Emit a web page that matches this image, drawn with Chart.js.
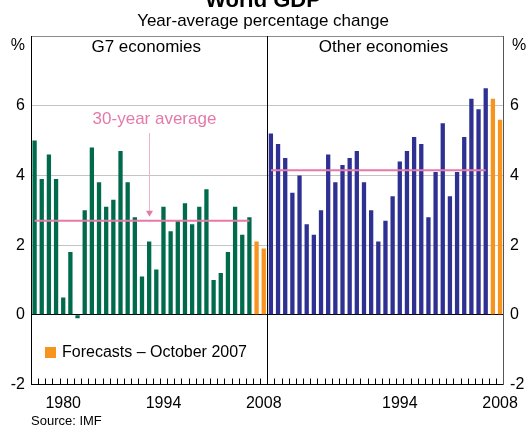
<!DOCTYPE html>
<html><head><meta charset="utf-8">
<script src="https://cdn.jsdelivr.net/npm/chart.js@4.4.1/dist/chart.umd.min.js"></script>
<style>html,body{margin:0;padding:0;background:#fff;}canvas{display:block;}</style>
</head><body>
<canvas id="c" width="527" height="426"></canvas>
<script>
// ---- data ----
const years = [1976,1977,1978,1979,1980,1981,1982,1983,1984,1985,1986,1987,1988,1989,1990,1991,1992,1993,1994,1995,1996,1997,1998,1999,2000,2001,2002,2003,2004,2005,2006,2007,2008];
const g7Growth = [5.0,3.9,4.6,3.9,0.5,1.8,-0.1,3.0,4.8,3.8,3.1,3.3,4.7,3.8,2.8,1.1,2.1,1.3,3.1,2.4,2.7,3.2,2.6,3.1,3.6,1.0,1.2,1.8,3.1,2.3,2.8,2.1,1.9];
const otherGrowth = [5.2,4.9,4.5,3.5,4.0,2.6,2.3,3.0,4.6,3.8,4.3,4.5,4.7,3.8,3.0,2.1,2.7,3.4,4.4,4.7,5.1,4.9,2.8,4.1,5.5,3.4,4.1,5.1,6.2,5.9,6.5,6.2,5.6];
const forecastYears = [2007, 2008];
const averageYears = [1976, 2006];
const g7Average = 2.7;
const otherAverage = 4.15;
const yTickValues = [-2, 0, 2, 4, 6];
const xTickYearsLeft = [1980, 1994, 2008];
const xTickYearsRight = [1994, 2008];
const panelTitles = ['G7 economies', 'Other economies'];
const annotationYear = 1992;

// ---- styles ----
const FONT = '"Liberation Sans", Arial, Helvetica, sans-serif';
const GREEN = '#006b4c', NAVY = '#2e3192', ORANGE = '#f7941d', PINK = '#e37aa9';

const n = years.length;
const labels = years.concat(years).map(String);
const barData = g7Growth.concat(otherGrowth);
const barColors = labels.map((l, i) => forecastYears.includes(years[i % n]) ? ORANGE : (i < n ? GREEN : NAVY));
const inAvg = yr => yr >= averageYears[0] && yr <= averageYears[1];
const avgG7Data = labels.map((l, i) => (i < n && inAvg(years[i % n])) ? g7Average : null);
const avgOtherData = labels.map((l, i) => (i >= n && inAvg(years[i % n])) ? otherAverage : null);

const overlay = {
  id: 'overlay',
  afterDraw(chart) {
    const ctx = chart.ctx, ca = chart.chartArea, x = chart.scales.x, y = chart.scales.y;
    ctx.save();
    // divider
    const divX = Math.round((x.getPixelForValue(n - 1) + x.getPixelForValue(n)) / 2) + 0.5;
    ctx.strokeStyle = '#000'; ctx.lineWidth = 1;
    ctx.beginPath(); ctx.moveTo(divX, ca.top); ctx.lineTo(divX, ca.bottom); ctx.stroke();
    // inward ticks at category boundaries
    ctx.beginPath();
    for (let i = 1; i < 2 * n; i++) {
      const bx = Math.round((x.getPixelForValue(i - 1) + x.getPixelForValue(i)) / 2) + 0.5;
      ctx.moveTo(bx, ca.bottom); ctx.lineTo(bx, ca.bottom - 6);
    }
    ctx.stroke();
    // texts
    ctx.fillStyle = '#000';
    ctx.textAlign = 'center'; ctx.textBaseline = 'alphabetic';
    ctx.font = 'bold 22px ' + FONT;
    ctx.fillText('World GDP', 263, 6.5);
    ctx.font = '17px ' + FONT;
    ctx.fillText('Year-average percentage change', 263, 26);
    const leftC = (ca.left + divX) / 2, rightC = (divX + ca.right) / 2;
    ctx.fillText(panelTitles[0], leftC - 3, 52);
    ctx.fillText(panelTitles[1], rightC - 2, 52);
    ctx.font = '16px ' + FONT;
    ctx.textAlign = 'right';
    ctx.fillText('%', 25, 50);
    ctx.textAlign = 'left';
    ctx.fillText('%', 512, 50);
    // legend
    ctx.fillStyle = ORANGE;
    ctx.fillRect(45, 347, 11, 11);
    ctx.fillStyle = '#000';
    ctx.textBaseline = 'middle';
    ctx.fillText('Forecasts \u2013 October 2007', 62, 353);
    // source
    ctx.textBaseline = 'alphabetic';
    ctx.font = '13px ' + FONT;
    ctx.fillText('Source: IMF', 31, 425);
    // annotation
    const ai = years.indexOf(annotationYear);
    const axp = Math.round(x.getPixelForValue(ai)) + 0.5;
    const lineY = y.getPixelForValue(g7Average);
    ctx.fillStyle = PINK;
    ctx.font = '17px ' + FONT;
    ctx.textAlign = 'center';
    ctx.fillText('30-year average', axp + 5, 124);
    ctx.strokeStyle = '#f0b4cd';
    ctx.beginPath(); ctx.moveTo(axp, 133); ctx.lineTo(axp, lineY - 9); ctx.stroke();
    ctx.fillStyle = PINK;
    ctx.beginPath();
    ctx.moveTo(axp - 3.5, lineY - 10); ctx.lineTo(axp + 3.5, lineY - 10); ctx.lineTo(axp, lineY - 4);
    ctx.closePath(); ctx.fill();
    ctx.restore();
  }
};

const yTickCb = v => yTickValues.includes(v) ? String(v) : '';

new Chart(document.getElementById('c'), {
  type: 'bar',
  data: {
    labels: labels,
    datasets: [
      { type: 'line', data: avgG7Data, borderColor: PINK, borderWidth: 2, pointRadius: 0, spanGaps: false, order: 0 },
      { type: 'line', data: avgOtherData, borderColor: PINK, borderWidth: 2, pointRadius: 0, spanGaps: false, order: 0 },
      { type: 'bar', data: barData, backgroundColor: barColors, barPercentage: 0.6, categoryPercentage: 1, order: 1 }
    ]
  },
  options: {
    responsive: false, animation: false, devicePixelRatio: 1,
    layout: { padding: { top: 36, left: 0, right: 0, bottom: 0 } },
    plugins: { legend: { display: false }, tooltip: { enabled: false }, title: { display: false } },
    scales: {
      x: {
        type: 'category', offset: true,
        grid: { display: false, drawTicks: false },
        border: { display: true, color: '#000', width: 1 },
        ticks: {
          autoSkip: false, maxRotation: 0, minRotation: 0, padding: 9, color: '#000',
          font: { family: FONT, size: 16 },
          callback: function (v, i) {
            const yr = years[i % n];
            if (i < n) return xTickYearsLeft.includes(yr) ? String(yr) : '';
            return xTickYearsRight.includes(yr) ? String(yr) : '';
          }
        },
        afterFit: s => { s.height = 41.5; }
      },
      y: {
        position: 'left', min: -2, max: 8,
        ticks: { stepSize: 2, padding: 6, color: '#000', font: { family: FONT, size: 16 }, callback: yTickCb },
        grid: { drawTicks: false, lineWidth: 1,
          color: c => (c.tick.value === 0 || c.tick.value === -2) ? '#000' : (c.tick.value === 8 ? '#8c8c8c' : '#c4c4c4') },
        border: { display: true, color: '#000' },
        afterFit: s => { s.width = 31; }
      },
      y2: {
        position: 'right', min: -2, max: 8,
        ticks: { stepSize: 2, padding: 6.5, color: '#000', font: { family: FONT, size: 16 }, callback: yTickCb },
        grid: { display: false, drawTicks: false },
        border: { display: true, color: '#555' },
        afterFit: s => { s.width = 21; }
      }
    }
  },
  plugins: [overlay]
});
</script>
</body></html>
